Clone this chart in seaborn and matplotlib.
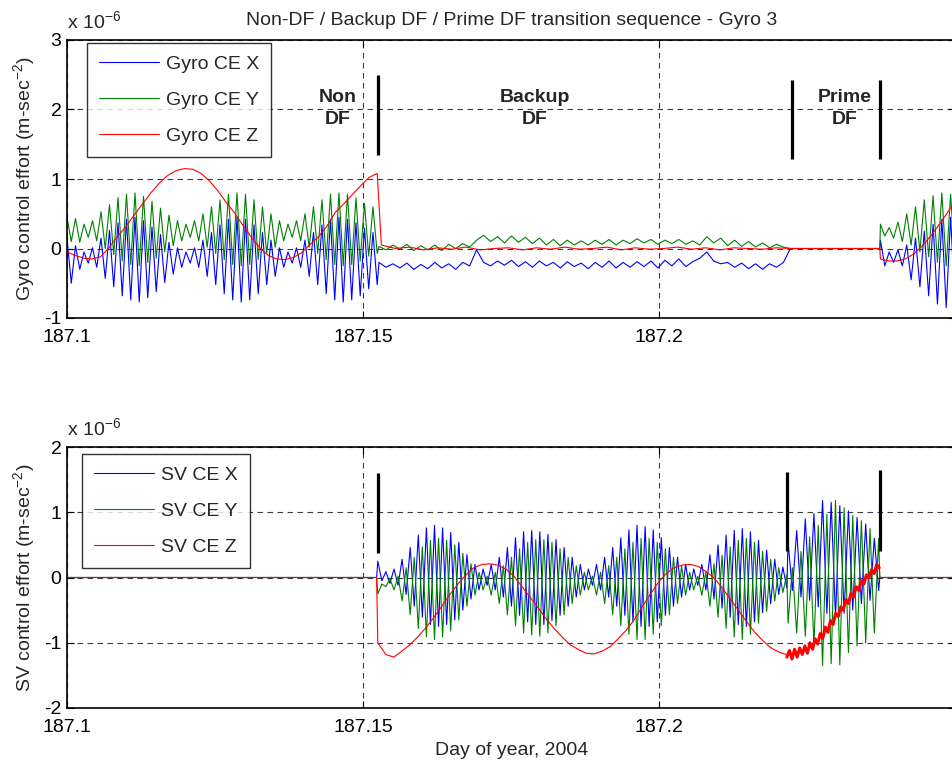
import numpy as np
import pandas as pd
import matplotlib
matplotlib.use("Agg")
import matplotlib.pyplot as plt
from matplotlib.lines import Line2D
import seaborn as sns

# ---------------------------------------------------------------- time frame
DAY_START, DAY_END = 187.1, 187.25
NONDF_END = 187.1524      # gyro leaves Non-DF mode
BACKUP_END = 187.2222     # backup DF stops
PRIME_END = 187.2373      # prime DF stops

COLORS = {"X": "#0000ff", "Y": "#008000", "Z": "#ff0000"}

# ---------------------------------------------------------------- gyro control effort (x 1e-6)
# Non-DF interval: successive oscillation extremes (peak, trough per cycle)
gyro_x_nondf_peaks = [0.15, 0.04, -0.05, 0.01, 0.15, 0.26, 0.37, 0.42, 0.45, 0.40, 0.31, 0.20, 0.09,
                      0.01, -0.05, 0.01, 0.12, 0.23, 0.34, 0.42, 0.45, 0.42, 0.34, 0.23, 0.12, 0.01,
                      -0.05, 0.01, 0.12, 0.23, 0.34, 0.42, 0.45, 0.42, 0.37, 0.29, 0.23]
gyro_x_nondf_troughs = [-0.50, -0.30, -0.21, -0.27, -0.43, -0.55, -0.68, -0.74, -0.77, -0.71, -0.62,
                        -0.49, -0.37, -0.27, -0.21, -0.27, -0.40, -0.52, -0.65, -0.74, -0.77, -0.74,
                        -0.65, -0.52, -0.40, -0.27, -0.21, -0.27, -0.40, -0.52, -0.65, -0.74, -0.77,
                        -0.74, -0.68, -0.58, -0.52]
gyro_y_nondf_peaks = [0.45, 0.43, 0.35, 0.40, 0.53, 0.63, 0.73, 0.78, 0.80, 0.75, 0.68, 0.58, 0.48,
                      0.40, 0.35, 0.40, 0.50, 0.60, 0.70, 0.78, 0.80, 0.78, 0.70, 0.60, 0.50, 0.40,
                      0.35, 0.40, 0.50, 0.60, 0.70, 0.78, 0.80, 0.78, 0.73, 0.65, 0.60]
gyro_y_nondf_troughs = [0.10, 0.09, 0.16, 0.11, 0.00, -0.09, -0.18, -0.23, -0.25, -0.20, -0.14,
                        -0.05, 0.04, 0.11, 0.16, 0.11, 0.02, -0.07, -0.16, -0.23, -0.25, -0.23,
                        -0.16, -0.07, 0.02, 0.11, 0.16, 0.11, 0.02, -0.07, -0.16, -0.23, -0.25,
                        -0.23, -0.18, -0.11, -0.07]
gyro_z_nondf = [-0.05, -0.10, -0.14, -0.15, -0.12, 0.01, 0.17, 0.31, 0.48, 0.64, 0.80, 0.94, 1.05,
                1.12, 1.15, 1.14, 1.08, 0.97, 0.83, 0.66, 0.51, 0.33, 0.16, 0.01, -0.10, -0.15,
                -0.16, -0.13, -0.06, 0.06, 0.17, 0.32, 0.52, 0.64, 0.77, 0.90, 1.02, 1.08]

# Backup DF interval
gyro_x_backup = [-0.20, -0.27, -0.22, -0.28, -0.21, -0.30, -0.23, -0.29, -0.20, -0.28, -0.22, -0.30,
                 -0.20, -0.25, -0.02, -0.20, -0.25, -0.18, -0.24, -0.17, -0.26, -0.19, -0.27, -0.18,
                 -0.25, -0.20, -0.28, -0.19, -0.26, -0.21, -0.29, -0.20, -0.27, -0.18, -0.28, -0.20,
                 -0.27, -0.19, -0.26, -0.18, -0.28, -0.17, -0.25, -0.15, -0.26, -0.19, -0.14, -0.05,
                 -0.18, -0.22, -0.20, -0.27, -0.21, -0.29, -0.22, -0.30, -0.22, -0.27, -0.20, 0.00]
gyro_y_backup = [0.03, -0.02, 0.05, -0.01, 0.06, -0.03, 0.04, -0.02, 0.05, -0.03, 0.06, 0.00, 0.07,
                 0.02, 0.12, 0.19, 0.10, 0.17, 0.08, 0.18, 0.09, 0.16, 0.07, 0.15, 0.05, 0.13, 0.04,
                 0.12, 0.05, 0.11, 0.05, 0.12, 0.06, 0.13, 0.05, 0.12, 0.07, 0.14, 0.08, 0.13, 0.06,
                 0.12, 0.07, 0.13, 0.06, 0.11, 0.05, 0.17, 0.08, 0.15, 0.04, 0.12, 0.03, 0.10, 0.02,
                 0.08, 0.01, 0.06, 0.02, 0.00]
gyro_z_backup = [0.05, 0.00, 0.02, -0.02, 0.01, -0.01, 0.02, -0.02, 0.00, 0.01, -0.02, 0.01, -0.01,
                 0.02, -0.01, 0.00, 0.02, -0.02, 0.01, -0.01, 0.00, 0.02, -0.01, 0.01, -0.02, 0.01,
                 0.00, -0.01, 0.01, 0.00]

# Prime DF interval (gyro re-enters control after it)
gyro_x_prime_peaks = [0.12, -0.05, -0.02, 0.05, 0.15, 0.25, 0.35, 0.42, 0.45]
gyro_x_prime_troughs = [-0.25, -0.20, -0.25, -0.45, -0.55, -0.68, -0.80, -0.85, -0.80]
gyro_y_prime_peaks = [0.35, 0.30, 0.38, 0.50, 0.60, 0.70, 0.76, 0.80, 0.78]
gyro_y_prime_troughs = [0.18, 0.15, 0.10, 0.05, -0.05, -0.12, -0.20, -0.25, -0.22]
gyro_z_prime = [-0.15, -0.18, -0.18, -0.15, -0.08, 0.03, 0.17, 0.33, 0.50, 0.68]

# ---------------------------------------------------------------- SV control effort (x 1e-6)
sv_x_backup_peaks = [0.25, 0.09, 0.13, 0.28, 0.46, 0.65, 0.76, 0.80, 0.76, 0.69, 0.54, 0.35, 0.20,
                     0.13, 0.20, 0.31, 0.46, 0.61, 0.70, 0.72, 0.70, 0.66, 0.58, 0.46, 0.31, 0.20,
                     0.13, 0.20, 0.31, 0.46, 0.61, 0.73, 0.80, 0.78, 0.73, 0.61, 0.46, 0.31, 0.20,
                     0.13, 0.20, 0.35, 0.50, 0.65, 0.72, 0.75, 0.70, 0.57, 0.42, 0.28, 0.16]
sv_x_backup_troughs = [-0.05, -0.09, -0.12, -0.26, -0.44, -0.61, -0.72, -0.75, -0.72, -0.65, -0.50,
                       -0.33, -0.19, -0.12, -0.19, -0.30, -0.44, -0.58, -0.68, -0.72, -0.72, -0.66,
                       -0.58, -0.44, -0.30, -0.19, -0.12, -0.19, -0.30, -0.44, -0.58, -0.68, -0.75,
                       -0.75, -0.68, -0.58, -0.44, -0.30, -0.19, -0.12, -0.19, -0.33, -0.47, -0.61,
                       -0.72, -0.75, -0.68, -0.54, -0.40, -0.26, -0.16]
sv_y_backup_peaks = [-0.10, -0.02, 0.02, 0.15, 0.31, 0.47, 0.57, 0.60, 0.57, 0.50, 0.37, 0.21, 0.08,
                     0.02, 0.08, 0.18, 0.31, 0.44, 0.54, 0.58, 0.58, 0.54, 0.44, 0.31, 0.18, 0.08,
                     0.02, 0.08, 0.18, 0.31, 0.44, 0.54, 0.60, 0.60, 0.54, 0.44, 0.31, 0.18, 0.08,
                     0.02, 0.08, 0.21, 0.34, 0.47, 0.57, 0.60, 0.54, 0.40, 0.28, 0.15, 0.05]
sv_y_backup_troughs = [-0.25, -0.14, -0.19, -0.36, -0.57, -0.78, -0.91, -0.95, -0.91, -0.82, -0.65,
                       -0.44, -0.27, -0.19, -0.27, -0.40, -0.57, -0.74, -0.85, -0.88, -0.90, -0.85,
                       -0.74, -0.57, -0.40, -0.27, -0.19, -0.27, -0.40, -0.57, -0.74, -0.87, -0.95,
                       -0.95, -0.87, -0.74, -0.57, -0.40, -0.27, -0.19, -0.27, -0.44, -0.61, -0.78,
                       -0.91, -0.95, -0.87, -0.70, -0.52, -0.36, -0.23]
sv_z_backup = [-1.00, -1.18, -1.22, -1.13, -1.03, -0.91, -0.77, -0.61, -0.44, -0.26, -0.10, 0.04,
               0.15, 0.20, 0.21, 0.19, 0.13, 0.02, -0.14, -0.30, -0.46, -0.63, -0.78, -0.91, -1.03,
               -1.10, -1.16, -1.17, -1.13, -1.06, -0.94, -0.81, -0.65, -0.45, -0.26, -0.08, 0.06,
               0.15, 0.19, 0.20, 0.17, 0.09, -0.01, -0.16, -0.33, -0.50, -0.67, -0.83, -0.96, -1.07,
               -1.14, -1.18]

sv_x_prime_peaks = [0.55, 0.72, 0.90, 0.98, 1.18, 1.15, 1.10, 1.02, 0.92, 0.82, 0.60]
sv_x_prime_troughs = [-0.20, -0.30, -0.35, -0.45, -0.55, -0.60, -0.55, -0.50, -0.40, -0.35, -0.20]
sv_y_prime_peaks = [0.15, 0.40, 0.62, 0.80, 0.97, 1.18, 1.07, 0.95, 0.87, 0.75, 0.60]
sv_y_prime_troughs = [-0.70, -0.85, -0.90, -1.05, -1.35, -1.32, -1.34, -1.15, -1.05, -1.00, -0.85]
sv_z_prime = [-1.22, -1.12, -1.25, -1.10, -1.22, -1.08, -1.18, -1.05, -1.16, -1.00, -1.10, -0.94,
              -1.02, -0.86, -0.93, -0.76, -0.84, -0.66, -0.72, -0.55, -0.60, -0.45, -0.50, -0.34,
              -0.40, -0.24, -0.30, -0.14, -0.20, -0.05, -0.10, 0.04, 0.00, 0.12, 0.06, 0.20, 0.15]

# ---------------------------------------------------------------- mode annotations
mode_labels = ["Non\nDF", "Backup\nDF", "Prime\nDF"]
mode_label_days = [187.1458, 187.1790, 187.2314]
mode_label_level = 2.01
gyro_bar_days = [187.1525, 187.2224, 187.2373]
gyro_bar_spans = [(1.35, 2.49), (1.29, 2.42), (1.29, 2.42)]
sv_bar_days = [187.1525, 187.2217, 187.2373]
sv_bar_spans = [(0.38, 1.60), (0.41, 1.62), (0.41, 1.65)]


def zigzag(t0, t1, first, second):
    vals = np.column_stack([first, second]).ravel()
    return np.linspace(t0, t1, vals.size), vals


def frame(parts, name):
    t = np.concatenate([np.asarray(p[0], float) for p in parts])
    v = np.concatenate([np.asarray(p[1], float) for p in parts])
    return pd.DataFrame({"day": t, "value": v, "axis": name})


# gyro panel series
gx = frame([zigzag(DAY_START, NONDF_END, gyro_x_nondf_peaks, gyro_x_nondf_troughs),
            (np.linspace(187.1527, BACKUP_END, len(gyro_x_backup)), gyro_x_backup),
            ([PRIME_END], [0.0]),
            zigzag(PRIME_END + 0.0001, DAY_END, gyro_x_prime_peaks, gyro_x_prime_troughs)], "X")
gy = frame([zigzag(DAY_START, NONDF_END, gyro_y_nondf_peaks, gyro_y_nondf_troughs),
            (np.linspace(187.1527, BACKUP_END, len(gyro_y_backup)), gyro_y_backup),
            ([PRIME_END], [0.0]),
            zigzag(PRIME_END + 0.0001, DAY_END, gyro_y_prime_peaks, gyro_y_prime_troughs)], "Y")
gz = frame([(np.linspace(DAY_START, NONDF_END, len(gyro_z_nondf)), gyro_z_nondf),
            (np.linspace(187.1531, BACKUP_END, len(gyro_z_backup)), gyro_z_backup),
            ([PRIME_END], [0.0]),
            (np.linspace(PRIME_END + 0.0001, DAY_END, len(gyro_z_prime)), gyro_z_prime)], "Z")
gyro_df = pd.concat([gx, gy, gz], ignore_index=True)

# SV panel series
sx = frame([([DAY_START, 187.1523], [0.0, 0.0]),
            zigzag(187.1525, 187.2216, sv_x_backup_peaks, sv_x_backup_troughs),
            zigzag(187.2218, 187.2371, sv_x_prime_peaks, sv_x_prime_troughs),
            ([PRIME_END, DAY_END], [0.0, 0.0])], "X")
sy = frame([([DAY_START, 187.1523], [0.0, 0.0]),
            zigzag(187.1525, 187.2216, sv_y_backup_troughs, sv_y_backup_peaks),
            zigzag(187.2218, 187.2371, sv_y_prime_troughs, sv_y_prime_peaks),
            ([PRIME_END, DAY_END], [0.0, 0.0])], "Y")
sz_prime_t = np.linspace(187.2216, 187.2372, len(sv_z_prime))
sz = frame([([DAY_START, 187.1523], [0.0, 0.0]),
            (np.linspace(187.1525, 187.2215, len(sv_z_backup)), sv_z_backup),
            (sz_prime_t, sv_z_prime),
            ([PRIME_END, DAY_END], [0.0, 0.0])], "Z")
sv_df = pd.concat([sx, sy, sz], ignore_index=True)

# ---------------------------------------------------------------- figure
sns.set_style("ticks")
plt.rcParams["font.family"] = ["Liberation Sans", "DejaVu Sans"]
plt.rcParams["mathtext.default"] = "regular"

FS = 14
fig = plt.figure(figsize=(9.53, 7.63), dpi=100)
ax1 = fig.add_axes([67 / 953, 1 - 318 / 763, 888 / 953, 278 / 763])
ax2 = fig.add_axes([67 / 953, 1 - 708 / 763, 888 / 953, 261 / 763])

for ax, df, ylim, yticks in [(ax1, gyro_df, (-1, 3), [-1, 0, 1, 2, 3]),
                             (ax2, sv_df, (-2, 2), [-2, -1, 0, 1, 2])]:
    sns.lineplot(data=df, x="day", y="value", hue="axis", palette=COLORS,
                 hue_order=["X", "Y", "Z"], estimator=None, sort=False,
                 lw=0.8, legend=False, ax=ax)
    ax.set_xlim(DAY_START, DAY_END)
    ax.set_ylim(*ylim)
    ax.set_xticks([187.1, 187.15, 187.2])
    ax.set_xticklabels(["187.1", "187.15", "187.2"])
    ax.set_yticks(yticks)
    ax.set_yticklabels([str(v) for v in yticks])
    ax.grid(True, color="#3c3c3c", linestyle=(0, (5, 4)), lw=0.8)
    ax.set_axisbelow(True)
    ax.tick_params(direction="in", length=5, width=0.8, top=True, right=True,
                   labelsize=FS, colors="black")
    ax.tick_params(axis="x", pad=8)
    ax.tick_params(axis="y", pad=4)
    for s in ax.spines.values():
        s.set_color("black")
        s.set_linewidth(1.2)
    ax.set_xlabel("")
    ax.set_ylabel("")
    ax.text(0.0, 1.03, r"x 10$^{-6}$", transform=ax.transAxes, ha="left",
            va="bottom", fontsize=FS)

# thick noisy Z effort while prime DF is active
sns.lineplot(x=sz_prime_t, y=sv_z_prime, color=COLORS["Z"], lw=2.2,
             estimator=None, sort=False, ax=ax2)

# mode markers
for d, (lo, hi) in zip(gyro_bar_days, gyro_bar_spans):
    ax1.plot([d, d], [lo, hi], color="black", lw=2.3, solid_capstyle="butt")
for d, (lo, hi) in zip(sv_bar_days, sv_bar_spans):
    ax2.plot([d, d], [lo, hi], color="black", lw=2.3, solid_capstyle="butt")
for lab, d in zip(mode_labels, mode_label_days):
    ax1.text(d, mode_label_level, lab, ha="center", va="center", fontsize=FS,
             fontweight="bold", linespacing=1.4)

# legends
def legend(ax, prefix, anchor):
    handles = [Line2D([], [], color=COLORS[k], lw=0.8) for k in ["X", "Y", "Z"]]
    labels = [f"{prefix} CE {k}" for k in ["X", "Y", "Z"]]
    leg = ax.legend(handles, labels, loc="upper left", bbox_to_anchor=anchor,
                    borderaxespad=0, fontsize=FS, frameon=True, fancybox=False,
                    handlelength=3.1, handletextpad=0.35, labelspacing=0.95,
                    borderpad=0.62)
    leg.get_frame().set_edgecolor("black")
    leg.get_frame().set_linewidth(1.0)

legend(ax1, "Gyro", (20 / 888, 1 - 3 / 278))
legend(ax2, "SV", (15 / 888, 1 - 7 / 261))

ax1.set_title("Non-DF / Backup DF / Prime DF transition sequence - Gyro 3",
              fontsize=FS, pad=11, x=(512 - 67) / 888)
ax1.set_ylabel(r"Gyro control effort (m-sec$^{-2}$)", fontsize=FS)
ax2.set_ylabel(r"SV control effort (m-sec$^{-2}$)", fontsize=FS)
ax1.yaxis.set_label_coords(-0.034, 0.5)
ax2.yaxis.set_label_coords(-0.034, 0.5)
ax2.set_xlabel("Day of year, 2004", fontsize=FS)
ax2.xaxis.set_label_coords((512 - 67) / 888, -0.13)

fig.savefig("out.png", dpi=100, facecolor="white")
